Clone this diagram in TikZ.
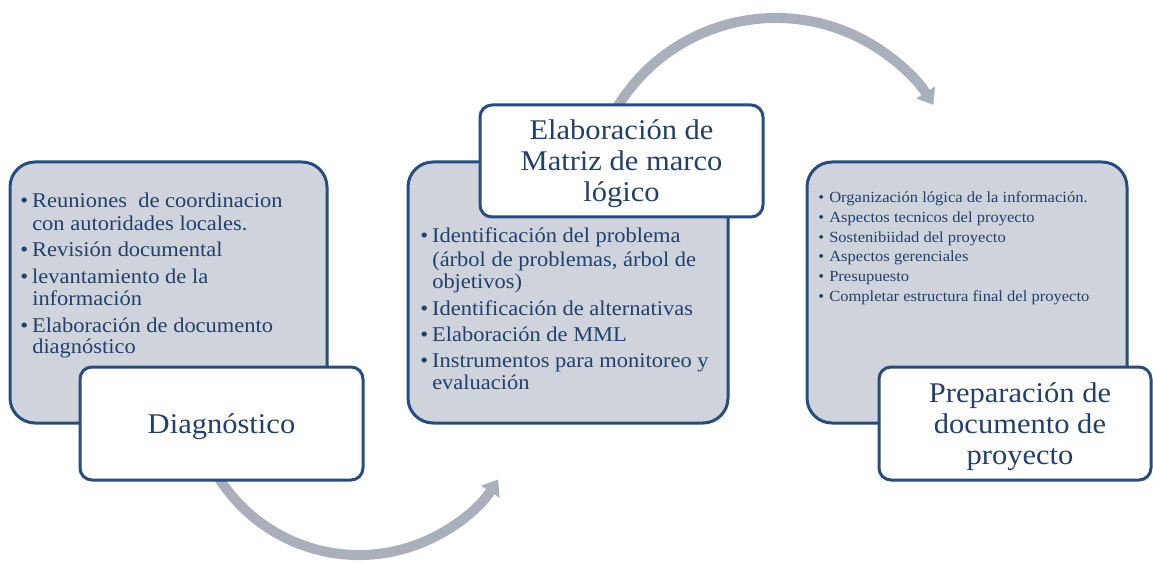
\documentclass[tikz,border=0pt]{standalone}
\usepackage{fontspec}
\setmainfont[FakeStretch=1.07]{Liberation Serif}
\usetikzlibrary{arrows.meta}
\definecolor{boxline}{HTML}{284C7E}
\definecolor{boxfill}{HTML}{CFD3DC}
\definecolor{txtblue}{HTML}{22406B}
\definecolor{arrowgray}{HTML}{AAAFBC}
\newcommand\bul{\makebox[9pt][l]{\textbullet}}
\newcommand\bulsm{\makebox[8.25pt][l]{\textbullet}}
\begin{document}
\begin{tikzpicture}[x=0.75pt,y=-0.75pt,
  graybox/.style={draw=boxline,line width=2.25pt,fill=boxfill,rounded corners=18.75pt,inner sep=0pt},
  titlebox/.style={draw=boxline,line width=2.25pt,fill=white,rounded corners=9pt,inner sep=0pt},
  titletext/.style={inner sep=0pt,text=txtblue,font=\fontsize{21.4pt}{23.25pt}\selectfont,align=center},
  item/.style={anchor=base west,inner sep=0pt,text=txtblue,font=\fontsize{15.75pt}{18pt}\selectfont},
  smitem/.style={anchor=base west,inner sep=0pt,text=txtblue,font=\fontsize{11.6pt}{14pt}\selectfont},
  bigarrow/.style={draw=arrowgray,line width=7.5pt,-{Triangle[width=16pt,length=11pt]}}]
\useasboundingbox (0,0) rectangle (1153,563);
% arrows
\coordinate (bc) at (359,389);
\coordinate (tc) at (776,204);
\draw[bigarrow] (bc) ++(160:166) arc[start angle=160,end angle=33,radius=166];
\draw[bigarrow] (tc) ++(208:186) arc[start angle=208,end angle=327.8,radius=186];
% gray boxes
\node[graybox,minimum width=237.75pt,minimum height=195.75pt] (lbox) at (168.5,292.5) {};
\node[graybox,minimum width=240pt,minimum height=195.75pt] (mbox) at (568,292.5) {};
\node[graybox,minimum width=240pt,minimum height=195.75pt] (rbox) at (967,292.5) {};
% title boxes
\node[titlebox,minimum width=212.25pt,minimum height=84.75pt] (ltitle) at (221.5,423.5) {};
\node[titlebox,minimum width=212.25pt,minimum height=84pt] (mtitle) at (621.5,161) {};
\node[titlebox,minimum width=204pt,minimum height=84.75pt] (rtitle) at (1015,423.5) {};
\node[titletext] (ltitletext) at ([shift={(0,3)}]ltitle.center) {Diagnóstico};
\node[titletext] (mtitletext) at ([shift={(0,2.5)}]mtitle.center) {Elaboración de\\Matriz de marco\\lógico};
\node[titletext] (rtitletext) at ([shift={(5,3)}]rtitle.center) {Preparación de\\documento de\\proyecto};
% left list
\node[item] (l1) at (20,208) {\bul Reuniones~ de coordinacion};
\node[item] (l2) at (32,230) {con autoridades locales.};
\node[item] (l3) at (20,256) {\bul Revisión documental};
\node[item] (l4) at (20,283) {\bul levantamiento de la};
\node[item] (l5) at (32,305) {información};
\node[item] (l6) at (20,332) {\bul Elaboración de documento};
\node[item] (l7) at (32,353) {diagnóstico};
% middle list
\node[item] (m1) at (420,243) {\bul Identificación del problema};
\node[item] (m2) at (432,267) {(árbol de problemas, árbol de};
\node[item] (m3) at (432,288) {objetivos)};
\node[item] (m4) at (420,315) {\bul Identificación de alternativas};
\node[item] (m5) at (420,341) {\bul Elaboración de MML};
\node[item] (m6) at (420,367) {\bul Instrumentos para monitoreo y};
\node[item] (m7) at (432,389) {evaluación};
% right list
\node[smitem] (r1) at (818,203) {\bulsm Organización lógica de la información.};
\node[smitem] (r2) at (818,223) {\bulsm Aspectos tecnicos del proyecto};
\node[smitem] (r3) at (818,242.5) {\bulsm Sostenibiidad del proyecto};
\node[smitem] (r4) at (818,262) {\bulsm Aspectos gerenciales};
\node[smitem] (r5) at (818,281.5) {\bulsm Presupuesto};
\node[smitem] (r6) at (818,301.5) {\bulsm Completar estructura final del proyecto};
\end{tikzpicture}
\end{document}
